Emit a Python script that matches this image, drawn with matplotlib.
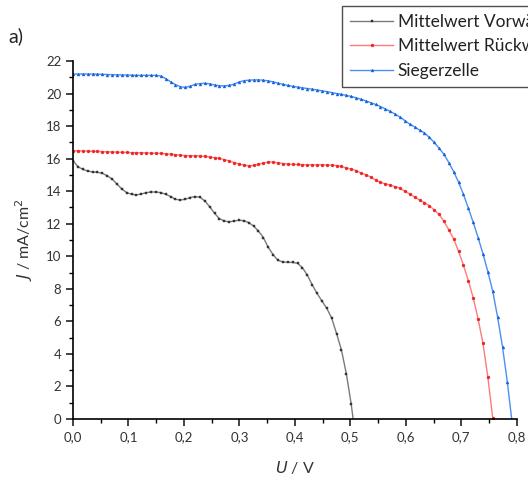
import numpy as np
import matplotlib
matplotlib.use("Agg")
import matplotlib.pyplot as plt
from matplotlib.ticker import MultipleLocator, FuncFormatter

plt.rcParams['font.family'] = ['Lato', 'DejaVu Sans']

# Voltage sweep step (V)
U_step = 0.0088

J_vor = [15.88, 15.51, 15.34, 15.24, 15.18, 15.16, 15.10, 14.95, 14.75, 14.44,
         14.14, 13.91, 13.81, 13.77, 13.83, 13.91, 13.95, 13.95, 13.91, 13.81,
         13.67, 13.50, 13.46, 13.50, 13.61, 13.67, 13.63, 13.40, 13.05, 12.64,
         12.31, 12.17, 12.11, 12.17, 12.21, 12.19, 12.07, 11.86, 11.55, 11.15,
         10.55, 10.10, 9.75, 9.65, 9.63, 9.62, 9.57, 9.30, 8.85, 8.25,
         7.72, 7.25, 6.80, 6.20, 5.25, 4.24, 2.79, 0.92, -1.40]

J_rueck = [16.49, 16.48, 16.47, 16.46, 16.45, 16.44, 16.43, 16.42, 16.41, 16.40,
           16.39, 16.38, 16.37, 16.37, 16.36, 16.35, 16.34, 16.33, 16.32, 16.30,
           16.27, 16.24, 16.21, 16.19, 16.18, 16.18, 16.17, 16.14, 16.10, 16.06,
           16.01, 15.94, 15.86, 15.76, 15.68, 15.61, 15.56, 15.58, 15.65, 15.73,
           15.79, 15.79, 15.74, 15.70, 15.67, 15.65, 15.64, 15.63, 15.62, 15.62,
           15.62, 15.62, 15.61, 15.60, 15.57, 15.52, 15.43, 15.36, 15.27, 15.12,
           15.01, 14.87, 14.68, 14.54, 14.45, 14.38, 14.28, 14.18, 13.99, 13.83,
           13.64, 13.46, 13.30, 13.11, 12.85, 12.58, 12.15, 11.62, 11.06, 10.30,
           9.45, 8.50, 7.45, 6.15, 4.65, 2.56, 0.05, -2.60]

J_sieger = [21.20, 21.20, 21.20, 21.20, 21.20, 21.19, 21.18, 21.17, 21.16, 21.15,
            21.14, 21.14, 21.13, 21.12, 21.12, 21.12, 21.12, 21.12, 21.08, 20.92,
            20.72, 20.55, 20.42, 20.38, 20.45, 20.56, 20.61, 20.63, 20.60, 20.53,
            20.48, 20.47, 20.50, 20.58, 20.71, 20.79, 20.82, 20.84, 20.84, 20.82,
            20.78, 20.72, 20.64, 20.57, 20.50, 20.44, 20.40, 20.35, 20.31, 20.27,
            20.22, 20.17, 20.12, 20.06, 20.00, 19.95, 19.89, 19.82, 19.74, 19.65,
            19.55, 19.44, 19.33, 19.20, 19.06, 18.90, 18.74, 18.55, 18.34, 18.12,
            17.95, 17.76, 17.58, 17.31, 17.00, 16.64, 16.27, 15.76, 15.20, 14.55,
            13.80, 12.96, 12.08, 11.15, 10.15, 9.05, 7.85, 6.25, 4.44, 2.25, -0.30]

labels = ["Mittelwert Vorwärts", "Mittelwert Rückwärts", "Siegerzelle"]

series = [J_vor, J_rueck, J_sieger]
line_colors = ["#7a7a7a", "#ff7a7a", "#4a90ee"]
marker_colors = ["#333333", "#ee2222", "#1560d8"]
markers = ["s", "o", "^"]

fig = plt.figure(figsize=(5.28, 4.78), dpi=100)
ax = fig.add_axes([73/528, 1-419/478, (516.7-73)/528, (419-61)/478])

for J, lc, mc, mk, lab in zip(series, line_colors, marker_colors, markers, labels):
    U = np.arange(len(J)) * U_step
    ax.plot(U, J, color=lc, lw=1.0, marker=mk, markersize=2.1,
            markerfacecolor=mc, markeredgecolor=mc, markeredgewidth=0.3,
            label=lab)

ax.set_xlim(0, 0.8)
ax.set_ylim(0, 22)
for s in ["top", "right"]:
    ax.spines[s].set_visible(False)
for s in ["left", "bottom"]:
    ax.spines[s].set_linewidth(1.2)

ax.xaxis.set_major_locator(MultipleLocator(0.1))
ax.xaxis.set_minor_locator(MultipleLocator(0.05))
ax.yaxis.set_major_locator(MultipleLocator(2))
ax.yaxis.set_minor_locator(MultipleLocator(1))
ax.xaxis.set_major_formatter(FuncFormatter(lambda v, p: f"{v:.1f}".replace(".", ",")))
ax.yaxis.set_major_formatter(FuncFormatter(lambda v, p: f"{v:.0f}"))
ax.tick_params(which="major", direction="out", length=5, width=1.2, labelsize=9.5,
               colors="#222222", labelcolor="#333333")
ax.tick_params(which="minor", direction="out", length=3, width=1.0)

ax.set_xlabel(r"$\it{U}$ / V", fontsize=11.5, color="#333333", labelpad=12)
ax.set_ylabel(r"$\it{J}$ / mA/cm$^2$", fontsize=11.5, color="#333333", labelpad=8)

fig.text(8/528, 1-36/478, "a)", fontsize=14, color="#222222", va="center")

leg = fig.legend(loc="upper left", bbox_to_anchor=(342/528, 1-6/478),
                 bbox_transform=fig.transFigure, fontsize=12.5, frameon=True,
                 fancybox=False, edgecolor="#222222", handlelength=2.5,
                 handletextpad=0.25, borderpad=0.45, labelspacing=0.5,
                 borderaxespad=0, numpoints=1)
leg.get_frame().set_linewidth(1.0)
for t in leg.get_texts():
    t.set_color("#222222")

fig.savefig("out.png", dpi=100)
